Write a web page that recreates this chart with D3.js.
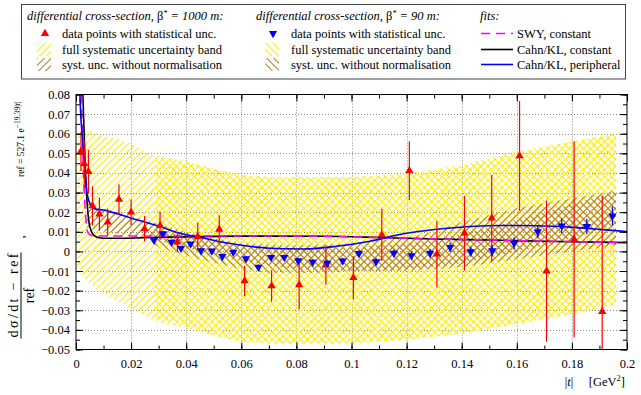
<!DOCTYPE html>
<html>
<head>
<meta charset="utf-8">
<title>Differential cross-section relative to reference</title>
<style>
  body { margin: 0; background: #fff; }
  text { font-family: "Liberation Serif", "Times New Roman", serif; }
</style>
</head>
<body>
<div id="chart"></div>
<script src="https://d3js.org/d3.v7.min.js"></script>
<script>
// ---- data ----
var xTicks = [0, 0.02, 0.04, 0.06, 0.08, 0.1, 0.12, 0.14, 0.16, 0.18, 0.2];
var yTicks = [-0.05, -0.04, -0.03, -0.02, -0.01, 0, 0.01, 0.02, 0.03, 0.04, 0.05, 0.06, 0.07, 0.08];

// beta* = 1000 m data points (red)
var red_t   = [0.0013, 0.0018, 0.0030, 0.0045, 0.0060, 0.0085, 0.0115, 0.0156, 0.0200, 0.0249, 0.0305, 0.0368, 0.0442, 0.0520, 0.0612, 0.0710, 0.0810, 0.0907, 0.1007, 0.1110, 0.1210, 0.1310, 0.1410, 0.1509, 0.1610, 0.1708, 0.1808, 0.1910];
var red_y   = [0.095, 0.051, 0.0446, 0.0407, 0.0232, 0.0190, 0.0149, 0.0266, 0.0200, 0.0115, 0.0132, 0.0048, 0.0076, 0.0113, -0.0150, -0.0176, -0.0170, -0.0069, -0.0134, 0.0084, 0.0412, -0.0014, 0.0093, 0.0170, 0.0487, -0.0100, 0.0062, -0.0307];
var red_err = [0.019, 0.010, 0.012, 0.011, 0.010, 0.0085, 0.007, 0.0077, 0.0065, 0.0065, 0.007, 0.005, 0.007, 0.0072, 0.0077, 0.008, 0.0125, 0.010, 0.011, 0.0133, 0.015, 0.017, 0.019, 0.022, 0.028, 0.036, 0.050, 0.059];

// beta* = 90 m data points (blue)
var blue_t   = [0.0283, 0.0315, 0.0347, 0.0381, 0.0416, 0.0454, 0.0493, 0.0531, 0.0571, 0.0617, 0.0662, 0.0708, 0.0756, 0.0807, 0.0859, 0.0912, 0.0968, 0.1027, 0.1089, 0.1154, 0.1218, 0.1285, 0.1358, 0.1433, 0.1511, 0.1590, 0.1676, 0.1763, 0.1854, 0.1947];
var blue_y   = [0.0057, 0.0091, 0.0047, 0.0016, 0.0038, 0.0004, 0.0003, -0.0026, -0.0004, -0.0037, -0.0080, -0.0030, -0.0030, -0.0047, -0.0055, -0.0060, -0.0048, -0.0010, -0.0052, -0.0009, -0.0021, -0.0009, 0.0021, -0.0001, 0.0004, 0.0042, 0.0101, 0.0130, 0.0127, 0.0181];
var blue_err = [0.001, 0.001, 0.001, 0.001, 0.001, 0.001, 0.001, 0.0012, 0.0012, 0.0012, 0.0013, 0.0013, 0.0014, 0.0014, 0.0015, 0.0015, 0.0016, 0.0017, 0.0018, 0.0019, 0.002, 0.0021, 0.0023, 0.0025, 0.0027, 0.003, 0.0033, 0.0036, 0.004, 0.0048];

// fits
var swy_t = [0.0020, 0.0026, 0.0030, 0.0034, 0.0038, 0.0043, 0.0050, 0.0060, 0.0080, 0.0120, 0.0300, 0.0600, 0.0900, 0.1100, 0.1300, 0.1500, 0.1700, 0.2000];
var swy_y = [0.080, 0.045, 0.030, 0.020, 0.013, 0.0098, 0.0086, 0.0081, 0.0079, 0.0079, 0.0079, 0.0079, 0.0077, 0.0071, 0.0064, 0.0058, 0.0052, 0.0046];
var cklc_t = [0.0025, 0.0033, 0.0038, 0.0043, 0.0048, 0.0055, 0.0065, 0.0080, 0.0100, 0.0150, 0.0300, 0.0600, 0.0900, 0.1100, 0.1300, 0.1500, 0.1700, 0.2000];
var cklc_y = [0.080, 0.045, 0.030, 0.020, 0.014, 0.0105, 0.0082, 0.0071, 0.0067, 0.0067, 0.0072, 0.0078, 0.0077, 0.0071, 0.0063, 0.0058, 0.0052, 0.0045];
var cklp_t = [0.0013, 0.0017, 0.0022, 0.0027, 0.0033, 0.0039, 0.0045, 0.0051, 0.0060, 0.0069, 0.0098, 0.0123, 0.0196, 0.0305, 0.0371, 0.0462, 0.0583, 0.0704, 0.0825, 0.0946, 0.1067, 0.1188, 0.1309, 0.1430, 0.1551, 0.1672, 0.1793, 0.1914, 0.2000];
var cklp_y = [0.085, 0.070, 0.060, 0.051, 0.040, 0.031, 0.0265, 0.0242, 0.0226, 0.0217, 0.0211, 0.0203, 0.0172, 0.0127, 0.0095, 0.0068, 0.0035, 0.0016, 0.0012, 0.0026, 0.0052, 0.0090, 0.0113, 0.0127, 0.0132, 0.0131, 0.0124, 0.0111, 0.0101];

// full systematic bands
var sys1000_t  = [0.0005, 0.002, 0.004, 0.008, 0.012, 0.016, 0.020, 0.024, 0.028, 0.032, 0.040, 0.050, 0.060, 0.070, 0.080, 0.100, 0.120, 0.140, 0.160, 0.180, 0.196];
var sys1000_hi = [0.061, 0.062, 0.062, 0.060, 0.058, 0.057, 0.055, 0.052, 0.049, 0.048, 0.046, 0.042, 0.039, 0.038, 0.038, 0.038, 0.039, 0.043, 0.050, 0.056, 0.060];
var sys1000_lo = [-0.009, -0.012, -0.015, -0.020, -0.023, -0.026, -0.029, -0.032, -0.035, -0.037, -0.039, -0.043, -0.046, -0.047, -0.047, -0.047, -0.045, -0.042, -0.037, -0.032, -0.027];
var sys90_t  = [0.029, 0.040, 0.050, 0.060, 0.070, 0.080, 0.100, 0.120, 0.140, 0.160, 0.180, 0.196];
var sys90_hi = [0.048, 0.046, 0.042, 0.039, 0.038, 0.038, 0.038, 0.040, 0.044, 0.051, 0.056, 0.060];
var sys90_lo = [-0.034, -0.038, -0.043, -0.046, -0.047, -0.047, -0.047, -0.045, -0.042, -0.037, -0.032, -0.027];

// systematics without normalisation
var norm1000_t  = [0.004, 0.007, 0.015, 0.025, 0.035, 0.045, 0.060, 0.080, 0.100, 0.120, 0.130, 0.140, 0.160, 0.180, 0.196];
var norm1000_hi = [0.026, 0.023, 0.020, 0.016, 0.012, 0.008, 0.004, 0.003, 0.004, 0.007, 0.010, 0.015, 0.022, 0.027, 0.031];
var norm1000_lo = [0.012, 0.011, 0.009, 0.007, 0.004, 0.000, -0.005, -0.009, -0.010, -0.010, -0.009, -0.008, -0.004, 0.000, 0.003];
var norm90_t  = [0.027, 0.035, 0.045, 0.060, 0.070, 0.080, 0.090, 0.100, 0.110, 0.120, 0.130, 0.140, 0.150, 0.160, 0.170, 0.180, 0.190, 0.196];
var norm90_hi = [0.012, 0.009, 0.006, 0.003, 0.002, 0.0015, 0.0015, 0.002, 0.003, 0.004, 0.006, 0.009, 0.012, 0.016, 0.020, 0.024, 0.028, 0.031];
var norm90_lo = [0.004, 0.000, -0.004, -0.009, -0.011, -0.011, -0.011, -0.010, -0.010, -0.009, -0.008, -0.006, -0.003, 0.000, 0.003, 0.007, 0.011, 0.014];

// ---- layout ----
var W = 641, H = 395;
var L = 76, R = 627, T = 94.5, B = 349.5;
var YELLOW = "#ffec00", BROWN = "#b47a30";

var svg = d3.select("#chart").append("svg")
    .attr("width", W).attr("height", H);
var defs = svg.append("defs");

function hatch(id, color, angle) {
  var p = defs.append("pattern").attr("id", id)
      .attr("patternUnits", "userSpaceOnUse")
      .attr("width", 5).attr("height", 10)
      .attr("patternTransform", "rotate(" + angle + ")");
  p.append("line").attr("x1", 2.5).attr("x2", 2.5).attr("y1", -1).attr("y2", 11)
      .attr("stroke", color).attr("stroke-width", 1.1);
}
hatch("yFwd", YELLOW, 45);
hatch("yBck", YELLOW, -45);
hatch("bFwd", BROWN, 45);
hatch("bBck", BROWN, -45);

defs.append("clipPath").attr("id", "plotClip")
  .append("rect").attr("x", L).attr("y", T).attr("width", R - L).attr("height", B - T);

var x = d3.scaleLinear().domain([0, 0.2]).range([L, R]);
var y = d3.scaleLinear().domain([-0.05, 0.08]).range([B, T]);

// grid
var grid = svg.append("g").attr("stroke", "#888").attr("stroke-dasharray", "1,2").attr("stroke-width", 1);
xTicks.slice(1, -1).forEach(function(t) {
  grid.append("line").attr("x1", Math.round(x(t)) + 0.5).attr("x2", Math.round(x(t)) + 0.5).attr("y1", T).attr("y2", B);
});
yTicks.slice(1, -1).forEach(function(v) {
  grid.append("line").attr("y1", Math.round(y(v)) + 0.5).attr("y2", Math.round(y(v)) + 0.5).attr("x1", L).attr("x2", R);
});

var plot = svg.append("g").attr("clip-path", "url(#plotClip)");

function band(ts, lo, hi, fill) {
  var pts = ts.map(function(t, i) { return [t, lo[i], hi[i]]; });
  plot.append("path").datum(pts)
    .attr("fill", fill)
    .attr("d", d3.area().x(function(d) { return x(d[0]); })
      .y0(function(d) { return y(d[1]); })
      .y1(function(d) { return y(d[2]); }));
}
band(sys1000_t, sys1000_lo, sys1000_hi, "url(#yFwd)");
band(sys90_t, sys90_lo, sys90_hi, "url(#yBck)");
band(norm1000_t, norm1000_lo, norm1000_hi, "url(#bFwd)");
band(norm90_t, norm90_lo, norm90_hi, "url(#bBck)");

function fit(ts, ys, color, dash) {
  var pts = ts.map(function(t, i) { return [t, ys[i]]; });
  plot.append("path").datum(pts)
    .attr("fill", "none").attr("stroke", color).attr("stroke-width", 1.6)
    .attr("stroke-dasharray", dash || null)
    .attr("d", d3.line().curve(d3.curveMonotoneX)
      .x(function(d) { return x(d[0]); }).y(function(d) { return y(d[1]); }));
}
fit(cklc_t, cklc_y, "#000");
fit(swy_t, swy_y, "#ff00ff", "9,6");
fit(cklp_t, cklp_y, "#0000ff");

function points(ts, ys, errs, color, down) {
  var g = plot.append("g");
  ts.forEach(function(t, i) {
    var cx = x(t);
    g.append("line").attr("x1", cx).attr("x2", cx)
      .attr("y1", y(ys[i] - errs[i])).attr("y2", y(ys[i] + errs[i]))
      .attr("stroke", color).attr("stroke-width", 1.2);
    g.append("path")
      .attr("d", d3.symbol(d3.symbolTriangle, 30)())
      .attr("fill", color)
      .attr("transform", "translate(" + cx + "," + y(ys[i]) + ")" + (down ? " rotate(180)" : ""));
  });
}
points(red_t, red_y, red_err, "#ff0000", false);
points(blue_t, blue_y, blue_err, "#0000ff", true);

// axes
var fmt = d3.format("~g");
function styleAxis(g) {
  g.select(".domain").remove();
  g.selectAll("line").attr("stroke", "#000");
  g.selectAll("text").attr("font-size", 12.5).attr("font-family", "Liberation Serif, serif").attr("fill", "#000");
}
var xMinor = d3.range(0, 21).map(function(i) { return i / 100; });
var yMinor = d3.range(-10, 17).map(function(i) { return i / 200; });

svg.append("g").attr("transform", "translate(0," + B + ")")
  .call(d3.axisBottom(x).tickValues(xTicks).tickFormat(fmt).tickSize(-7).tickPadding(10)).call(styleAxis);
svg.append("g").attr("transform", "translate(0," + B + ")")
  .call(d3.axisBottom(x).tickValues(xMinor).tickFormat("").tickSize(-4)).call(styleAxis);
svg.append("g").attr("transform", "translate(0," + T + ")")
  .call(d3.axisTop(x).tickValues(xTicks).tickFormat("").tickSize(-7)).call(styleAxis);
svg.append("g").attr("transform", "translate(0," + T + ")")
  .call(d3.axisTop(x).tickValues(xMinor).tickFormat("").tickSize(-4)).call(styleAxis);
svg.append("g").attr("transform", "translate(" + L + ",0)")
  .call(d3.axisLeft(y).tickValues(yTicks).tickFormat(fmt).tickSize(-7).tickPadding(6)).call(styleAxis);
svg.append("g").attr("transform", "translate(" + L + ",0)")
  .call(d3.axisLeft(y).tickValues(yMinor).tickFormat("").tickSize(-4)).call(styleAxis);
svg.append("g").attr("transform", "translate(" + R + ",0)")
  .call(d3.axisRight(y).tickValues(yTicks).tickFormat("").tickSize(-7)).call(styleAxis);
svg.append("g").attr("transform", "translate(" + R + ",0)")
  .call(d3.axisRight(y).tickValues(yMinor).tickFormat("").tickSize(-4)).call(styleAxis);

svg.append("rect").attr("x", L).attr("y", T).attr("width", R - L).attr("height", B - T)
  .attr("fill", "none").attr("stroke", "#000").attr("stroke-width", 1);

// x title
var xt = svg.append("text").attr("x", 625).attr("y", 386).attr("text-anchor", "end").attr("font-size", 12.5)
  .attr("xml:space", "preserve");
xt.append("tspan").text("|");
xt.append("tspan").attr("font-style", "italic").text("t");
xt.append("tspan").text("|     [GeV");
xt.append("tspan").attr("font-size", 8.5).attr("dy", -5).text("2");
xt.append("tspan").attr("dy", 5).text("]");

// y title (rotated)
var yt = svg.append("g").attr("transform", "translate(21,295.5) rotate(-90)");
yt.append("line").attr("x1", -43).attr("x2", 43).attr("y1", 0).attr("y2", 0).attr("stroke", "#000").attr("stroke-width", 1);
yt.append("text").attr("x", 0).attr("y", -3.5).attr("text-anchor", "middle").attr("font-size", 14)
  .attr("textLength", 84).attr("lengthAdjust", "spacing").text("dσ/dt − ref");
yt.append("text").attr("x", 0).attr("y", 12.5).attr("text-anchor", "middle").attr("font-size", 14).text("ref");
yt.append("text").attr("x", 57).attr("y", 3).attr("font-size", 13).text(",");
var yt2 = yt.append("text").attr("x", 118.5).attr("y", 2.5).attr("font-size", 9.5);
yt2.append("tspan").text("ref = 527.1 e");
yt2.append("tspan").attr("font-size", 7.7).attr("dy", -4).text("−19.39|");
yt2.append("tspan").attr("font-size", 7.7).attr("font-style", "italic").text("t");
yt2.append("tspan").attr("font-size", 7.7).text("|");

// legend
var leg = svg.append("g");
leg.append("rect").attr("x", 21.5).attr("y", 4.5).attr("width", 604).attr("height", 74.5)
  .attr("fill", "#fff").attr("stroke", "#444").attr("stroke-width", 1);
var rowY = [33.5, 49.5, 64.5];
function header(xp, beta) {
  var t = leg.append("text").attr("x", xp).attr("y", 20).attr("font-size", 12.5).attr("font-style", "italic");
  t.append("tspan").text("differential cross-section, ");
  t.append("tspan").attr("font-style", "normal").text("β");
  t.append("tspan").attr("font-size", 8).attr("dy", -4).text("*");
  t.append("tspan").attr("dy", 4).text(" = " + beta + " m:");
}
function dataColumn(xHead, xMark, xText, beta, color, down, pat1, pat2) {
  header(xHead, beta);
  leg.append("path").attr("d", d3.symbol(d3.symbolTriangle, 30)()).attr("fill", color)
    .attr("transform", "translate(" + xMark + "," + rowY[0] + ")" + (down ? " rotate(180)" : ""));
  leg.append("rect").attr("x", xMark - 8).attr("y", rowY[1] - 6.5).attr("width", 14).attr("height", 13).attr("fill", pat1);
  leg.append("rect").attr("x", xMark - 8).attr("y", rowY[2] - 6.5).attr("width", 14).attr("height", 13).attr("fill", pat2);
  var labels = ["data points with statistical unc.", "full systematic uncertainty band", "syst. unc. without normalisation"];
  labels.forEach(function(s, i) {
    leg.append("text").attr("x", xText).attr("y", rowY[i] + 4).attr("font-size", 12.5).text(s);
  });
}
dataColumn(27, 45, 62, "1000", "#ff0000", false, "url(#yFwd)", "url(#bFwd)");
dataColumn(256, 273, 291, "90", "#0000ff", true, "url(#yBck)", "url(#bBck)");

leg.append("text").attr("x", 480).attr("y", 20).attr("font-size", 12.5).attr("font-style", "italic").text("fits:");
var fitNames = ["SWY, constant", "Cahn/KL, constant", "Cahn/KL, peripheral"];
var fitColors = ["#ff00ff", "#000", "#0000ff"];
fitNames.forEach(function(s, i) {
  leg.append("line").attr("x1", 481).attr("x2", 513).attr("y1", rowY[i]).attr("y2", rowY[i])
    .attr("stroke", fitColors[i]).attr("stroke-width", 1.6).attr("stroke-dasharray", i === 0 ? "9,6" : null);
  leg.append("text").attr("x", 517).attr("y", rowY[i] + 4).attr("font-size", 12.5).text(s);
});
</script>
</body>
</html>
